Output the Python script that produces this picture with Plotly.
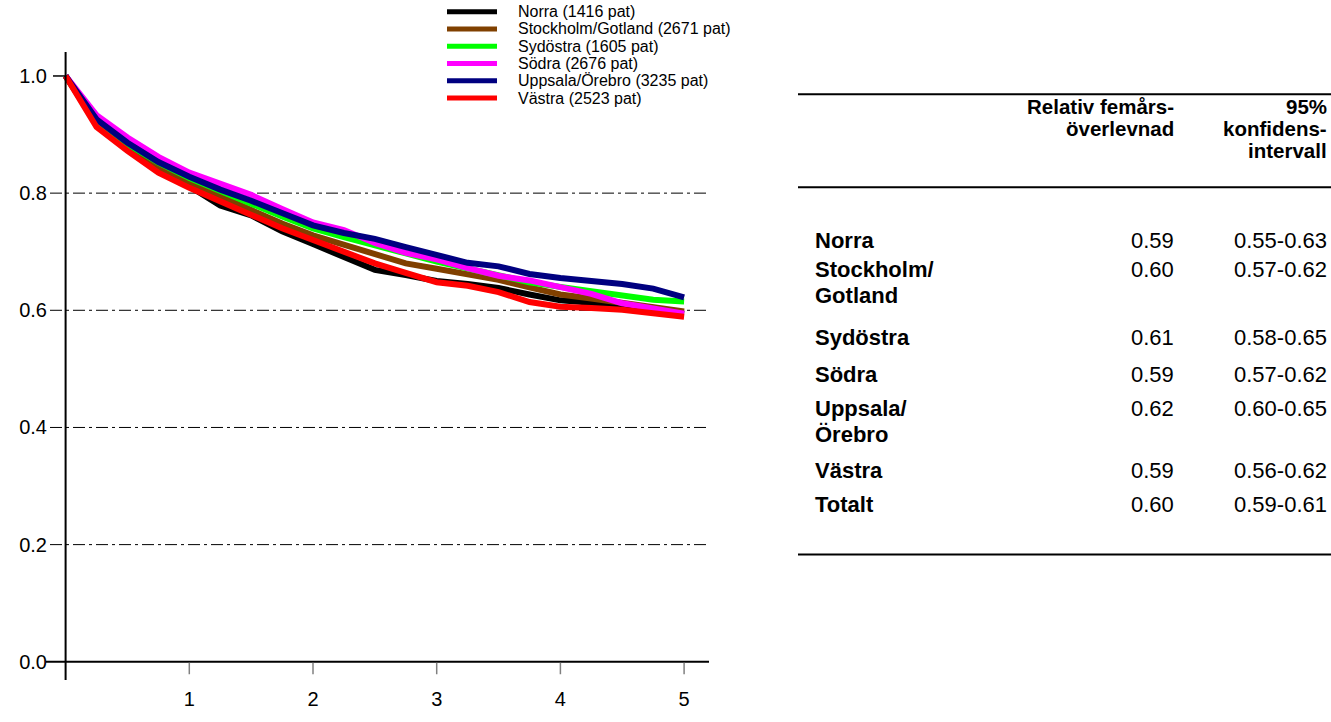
import plotly.graph_objects as go

# ---------------- data ----------------
years = [0, 0.25, 0.5, 0.75, 1, 1.25, 1.5, 1.75, 2, 2.25, 2.5, 2.75, 3,
         3.25, 3.5, 3.75, 4, 4.25, 4.5, 4.75, 5]

norra = [1.0, 0.918, 0.878, 0.840, 0.812, 0.779, 0.762, 0.735, 0.713, 0.691, 0.669,
         0.660, 0.650, 0.645, 0.638, 0.627, 0.617, 0.613, 0.606, 0.600, 0.594]
stockholm = [1.0, 0.920, 0.880, 0.845, 0.818, 0.795, 0.773, 0.748, 0.728, 0.712, 0.697,
             0.680, 0.671, 0.662, 0.652, 0.639, 0.627, 0.620, 0.612, 0.604, 0.598]
sydostra = [1.0, 0.922, 0.884, 0.852, 0.826, 0.803, 0.782, 0.760, 0.740, 0.725, 0.712,
            0.697, 0.683, 0.672, 0.660, 0.648, 0.640, 0.633, 0.626, 0.618, 0.615]
sodra = [1.0, 0.933, 0.895, 0.862, 0.835, 0.815, 0.797, 0.773, 0.750, 0.737, 0.715,
         0.698, 0.687, 0.672, 0.659, 0.651, 0.640, 0.628, 0.612, 0.603, 0.594]
uppsala = [1.0, 0.926, 0.886, 0.853, 0.828, 0.806, 0.787, 0.765, 0.745, 0.732, 0.722,
           0.708, 0.694, 0.681, 0.675, 0.662, 0.655, 0.651, 0.645, 0.637, 0.622]
vastra = [1.0, 0.913, 0.872, 0.835, 0.809, 0.786, 0.764, 0.740, 0.720, 0.700, 0.680,
          0.664, 0.648, 0.642, 0.631, 0.614, 0.606, 0.604, 0.601, 0.595, 0.589]

series_names = ["Norra (1416 pat)", "Stockholm/Gotland (2671 pat)", "Sydöstra (1605 pat)",
                "Södra (2676 pat)", "Uppsala/Örebro (3235 pat)", "Västra (2523 pat)"]
series_values = [norra, stockholm, sydostra, sodra, uppsala, vastra]
series_colors = ["#000000", "#804000", "#00ff00", "#ff00ff", "#000080", "#ff0000"]

y_ticks = [0.0, 0.2, 0.4, 0.6, 0.8, 1.0]
y_tick_labels = ["0.0", "0.2", "0.4", "0.6", "0.8", "1.0"]
x_ticks = [1, 2, 3, 4, 5]
x_tick_labels = ["1", "2", "3", "4", "5"]
grid_levels = [0.2, 0.4, 0.6, 0.8]

table_header_col1 = ["Relativ femårs-", "överlevnad"]
table_header_col2 = ["95%", "konfidens-", "intervall"]
table_regions = ["Norra", "Stockholm/\nGotland", "Sydöstra", "Södra", "Uppsala/\nÖrebro",
                 "Västra", "Totalt"]
table_survival = ["0.59", "0.60", "0.61", "0.59", "0.62", "0.59", "0.60"]
table_ci = ["0.55-0.63", "0.57-0.62", "0.58-0.65", "0.57-0.62", "0.60-0.65",
            "0.56-0.62", "0.59-0.61"]

# ---------------- layout helpers (pixel -> paper) ----------------
W, H = 1331, 722
PL, PR, PT, PB = 46, 709, 52, 707
X0PX, XPER = 65.6, 123.7        # pixel of x=0, pixels per year
Y0PX, Y1PX = 688.0, 77.0        # pixel of y=0 and y=1


def xp(px):
    return (px - PL) / (PR - PL)


def yp(py):
    return (PB - py) / (PB - PT)


FONT = "Arial, Liberation Sans, sans-serif"

fig = go.Figure()
for name, vals, col in zip(series_names, series_values, series_colors):
    fig.add_trace(go.Scatter(x=years, y=vals, mode="lines", name=name,
                             line=dict(color=col, width=6), showlegend=False))

shapes = []
annotations = []

# grid lines (dash-dot)
for g in grid_levels:
    shapes.append(dict(type="line", xref="paper", yref="y", x0=xp(50), x1=xp(708),
                       y0=g, y1=g, layer="below",
                       line=dict(color="#000000", width=1, dash="12px,4px,3px,4px")))
# axes
shapes.append(dict(type="line", xref="x", yref="paper", x0=0, x1=0, y0=0, y1=1,
                   line=dict(color="#000000", width=2)))
shapes.append(dict(type="line", xref="paper", yref="y", x0=0, x1=1, y0=0, y1=0,
                   line=dict(color="#000000", width=2)))
# 1.0 tick on y axis
shapes.append(dict(type="line", xref="paper", yref="y", x0=xp(53), x1=xp(65), y0=1.0, y1=1.0,
                   line=dict(color="#000000", width=1.5)))
# x ticks
for t in x_ticks:
    shapes.append(dict(type="line", xref="x", yref="paper", x0=t, x1=t,
                       y0=yp(Y0PX + 1), y1=yp(Y0PX + 13), line=dict(color="#808080", width=1.5)))

# manual legend
leg_rows = [10, 28, 46, 64, 82, 100]
for name, col, ry in zip(series_names, series_colors, leg_rows):
    shapes.append(dict(type="line", xref="paper", yref="paper", x0=xp(447), x1=xp(497),
                       y0=yp(ry), y1=yp(ry), line=dict(color=col, width=5)))
    annotations.append(dict(xref="paper", yref="paper", x=xp(516), y=yp(ry), text=name,
                            showarrow=False, xanchor="left", yanchor="middle",
                            font=dict(family=FONT, size=16, color="#000000")))

# table lines
for ly in [96, 193, 576]:
    shapes.append(dict(type="line", xref="paper", yref="paper", x0=xp(798), x1=xp(1331),
                       y0=yp(ly), y1=yp(ly), line=dict(color="#000000", width=2)))

TF = 22
HF = 20.5
col1_right = 1176
col2_right = 1329
label_left = 813
for txt, cy in zip(table_header_col1, [109, 132]):
    annotations.append(dict(xref="paper", yref="paper", x=xp(col1_right), y=yp(cy),
                            text="<b>%s</b>" % txt, showarrow=False, xanchor="right",
                            yanchor="middle", font=dict(family=FONT, size=HF, color="#000000")))
for txt, cy in zip(table_header_col2, [109, 132, 155]):
    annotations.append(dict(xref="paper", yref="paper", x=xp(col2_right), y=yp(cy),
                            text="<b>%s</b>" % txt, showarrow=False, xanchor="right",
                            yanchor="middle", font=dict(family=FONT, size=HF, color="#000000")))

row_centers = [249, 279, 350, 388, 424, 489, 524]
for lab, sv, ci, cy in zip(table_regions, table_survival, table_ci, row_centers):
    for i, part in enumerate(lab.split("\n")):
        annotations.append(dict(xref="paper", yref="paper", x=xp(label_left), y=yp(cy + 27 * i),
                                text="<b>%s</b>" % part, showarrow=False, xanchor="left",
                                yanchor="middle",
                                font=dict(family=FONT, size=TF, color="#000000")))
    annotations.append(dict(xref="paper", yref="paper", x=xp(col1_right), y=yp(cy), text=sv,
                            showarrow=False, xanchor="right", yanchor="middle",
                            font=dict(family=FONT, size=TF, color="#000000")))
    annotations.append(dict(xref="paper", yref="paper", x=xp(col2_right), y=yp(cy), text=ci,
                            showarrow=False, xanchor="right", yanchor="middle",
                            font=dict(family=FONT, size=TF, color="#000000")))

ypx_per = Y0PX - Y1PX
fig.update_layout(
    width=W, height=H,
    margin=dict(l=PL, r=W - PR, t=PT, b=H - PB, pad=0),
    paper_bgcolor="white", plot_bgcolor="white",
    showlegend=False,
    xaxis=dict(range=[(PL - X0PX) / XPER, (PR - X0PX) / XPER],
               tickvals=x_ticks, ticktext=x_tick_labels, showgrid=False, zeroline=False,
               showline=False, ticks="", ticklabelstandoff=5,
               tickfont=dict(family=FONT, size=20, color="#000000")),
    yaxis=dict(range=[(Y0PX - PB) / ypx_per, (Y0PX - PT) / ypx_per],
               tickvals=y_ticks, ticktext=y_tick_labels, showgrid=False, zeroline=False,
               showline=False, ticks="", ticklabelstandoff=-2,
               tickfont=dict(family=FONT, size=20, color="#000000")),
    shapes=shapes,
    annotations=annotations,
)

fig.write_html("out.html")
